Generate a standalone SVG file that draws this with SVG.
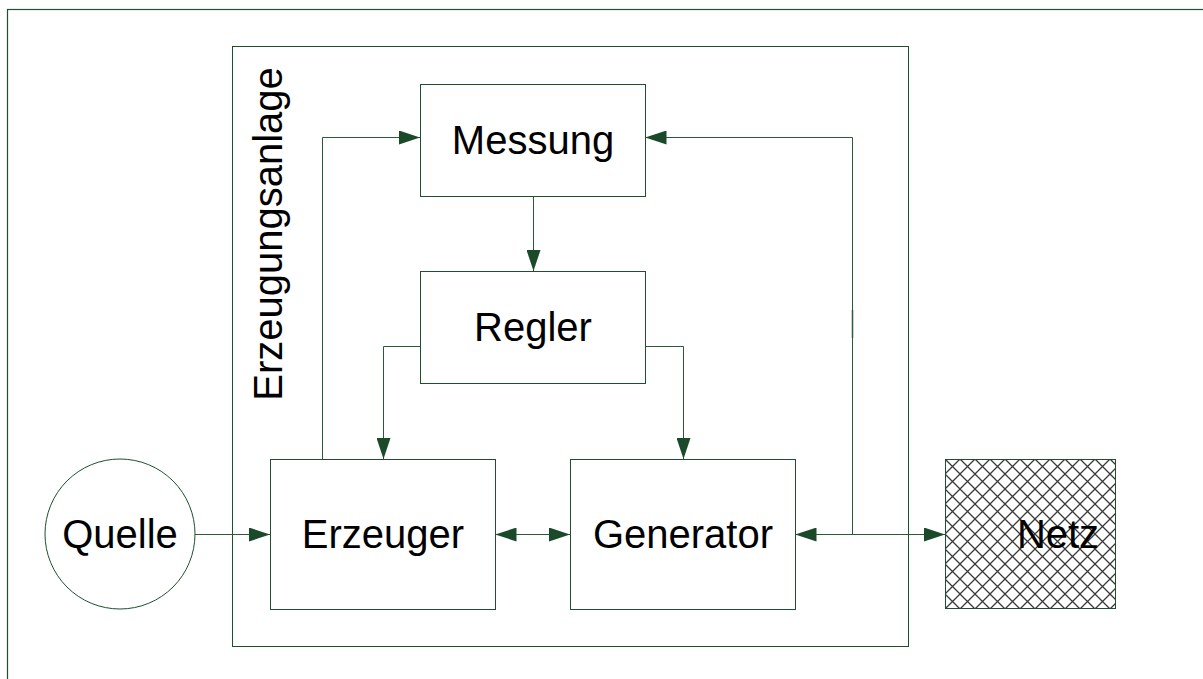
<svg xmlns="http://www.w3.org/2000/svg" width="1203" height="679" viewBox="0 0 1203 679">
<defs>
<style>
.box{fill:#fff;stroke:#1f4f2f;stroke-width:1}
.frame{fill:none;stroke:#1f4f2f;stroke-width:1.2}
.con{fill:none;stroke:#2a5a3a;stroke-width:1}
.lbl{font-family:"Liberation Sans",Arial,sans-serif;font-size:40px;fill:#000;text-anchor:middle}
</style>
<marker id="ah" markerUnits="userSpaceOnUse" markerWidth="21" markerHeight="14" refX="21" refY="7" orient="auto-start-reverse" viewBox="0 0 21 14">
<path d="M0,0 L21,7 L0,14 z" fill="#1b4a2a"/>
</marker>
<pattern id="hatch" patternUnits="userSpaceOnUse" x="945" y="459" width="15" height="15">
<rect width="15" height="15" fill="#fff"/>
<path d="M0,0 L15,15 M15,0 L0,15 M-1,14 L1,16 M14,-1 L16,1" stroke="#3a3a3a" stroke-width="1.3" fill="none"/>
</pattern>
</defs>
<rect width="1203" height="679" fill="#fff"/>
<g id="outer-frame"><rect class="frame" x="7.5" y="9.5" width="1210" height="690"/></g>
<g id="erzeugungsanlage">
<rect class="box" x="232.5" y="46.5" width="676" height="600"/>
<text class="lbl" transform="translate(282,234) rotate(-90)">Erzeugungsanlage</text>
</g>
<g id="messung"><rect class="box" x="420.5" y="84.5" width="225" height="112"/><text class="lbl" x="533" y="154">Messung</text></g>
<g id="regler"><rect class="box" x="420.5" y="271.5" width="225" height="112"/><text class="lbl" x="533" y="341">Regler</text></g>
<g id="erzeuger"><rect class="box" x="270.5" y="459.5" width="225" height="150"/><text class="lbl" x="383" y="548">Erzeuger</text></g>
<g id="generator"><rect class="box" x="570.5" y="459.5" width="225" height="150"/><text class="lbl" x="683" y="548">Generator</text></g>
<g id="netz"><rect x="945.5" y="459.5" width="170" height="149" fill="url(#hatch)" stroke="#1f4f2f" stroke-width="1"/><text class="lbl" x="1058" y="548">Netz</text></g>
<g id="quelle"><circle cx="120" cy="534" r="75" fill="#fff" stroke="#1f4f2f" stroke-width="1"/><text class="lbl" x="120" y="548">Quelle</text></g>
<g id="connectors">
<path class="con" d="M195,534.5 H270" marker-end="url(#ah)"/>
<path class="con" d="M495.5,534.5 H570" marker-start="url(#ah)" marker-end="url(#ah)"/>
<path class="con" d="M795.5,534.5 H945" marker-start="url(#ah)" marker-end="url(#ah)"/>
<path class="con" d="M852.5,534.5 V137.5 H645.5" marker-end="url(#ah)"/>
<path class="con" d="M322.5,459 V137.5 H420" marker-end="url(#ah)"/>
<path class="con" d="M533.5,196.5 V271" marker-end="url(#ah)"/>
<path class="con" d="M420.5,346.5 H383.5 V459" marker-end="url(#ah)"/>
<path class="con" d="M645.5,346.5 H683.5 V459" marker-end="url(#ah)"/>
<path d="M852.5,310 V338" stroke="#2a5a3a" stroke-width="1.5"/>
</g>
</svg>
